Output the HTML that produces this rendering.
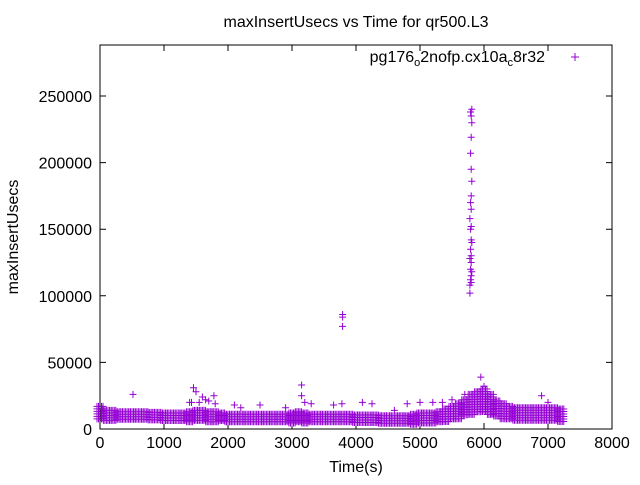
<!DOCTYPE html>
<html><head><meta charset="utf-8"><style>
body{margin:0;background:#fff}
svg text{font-family:"Liberation Sans",sans-serif;font-size:16px;fill:#000}
</style></head><body>
<svg id="chart" width="640" height="480" viewBox="0 0 640 480" xmlns="http://www.w3.org/2000/svg">
<rect width="640" height="480" fill="#fff"/>
<text x="356" y="27" text-anchor="middle">maxInsertUsecs vs Time for qr500.L3</text>
<text transform="translate(18,237) rotate(-90)" text-anchor="middle">maxInsertUsecs</text>
<text x="356" y="472" text-anchor="middle">Time(s)</text>
<g id="axes"></g>
<g id="marks"></g>
<rect x="100" y="45" width="512" height="384" fill="none" stroke="#000" stroke-width="1"/>
<g>
<text x="545" y="62" text-anchor="end">pg176<tspan font-size="11" dy="4">o</tspan><tspan dy="-4">2nofp.cx10a</tspan><tspan font-size="11" dy="4">c</tspan><tspan dy="-4">8r32</tspan></text>
<path d="M571 57h8M575 53v8" stroke="#9400d3" stroke-width="1"/>
</g>
</svg>
<script>
const xTicks=[0,1000,2000,3000,4000,5000,6000,7000,8000];
const yTicks=[0,50000,100000,150000,200000,250000];
const bandTimes=[0,100,200,300,400,500,600,700,800,900,1000,1100,1200,1300,1400,1500,1600,1700,1800,1900,2000,2100,2200,2300,2400,2500,2600,2700,2800,2900,3000,3100,3200,3300,3400,3500,3600,3700,3800,3900,4000,4100,4200,4300,4400,4500,4600,4700,4800,4900,5000,5100,5200,5300,5400,5500,5600,5700,5800,5900,6000,6100,6200,6300,6400,6500,6600,6700,6800,6900,7000,7100,7200];
const bandLow=[6000,6000,6000,6000,6000,6000,6000,6000,5500,5500,5000,5000,5000,5000,5000,5000,5000,5000,5000,5000,4500,4500,4500,4500,4000,4000,4000,4000,4000,4000,4000,4000,4000,4000,4000,4000,4000,4000,4000,4000,3500,3500,3500,3500,3000,3000,3000,3000,3000,3000,3500,4000,4000,4000,5000,6000,7000,9000,10000,12000,13000,10000,8000,7000,6000,5500,5500,5000,5000,5000,5000,5000,5000];
const bandHigh=[17000,14000,14000,13000,13000,13000,13000,13000,12500,12500,12000,12000,12000,12000,13000,14000,14000,13000,13000,12000,11000,11000,11000,11000,11000,11000,11000,11000,11000,11000,12000,13000,12000,11000,11000,11000,11000,11000,11000,11000,10500,10500,10500,10500,10000,10000,10000,10000,10000,11000,12000,12000,12000,13000,15000,17000,19000,22000,26000,28000,30000,26000,21000,19000,17000,16000,16000,16000,16000,16000,16000,16000,15000];
const outT=[30,516,1400,1430,1461,1500,1550,1600,1650,1700,1780,1800,2100,2200,2500,2900,3150,3150,3200,3300,3650,3780,3790,3790,3790,4100,4250,4600,4800,5000,5200,5350,5500,5700,5950,6000,6900,7000,7200];
const outV=[15000,26000,20000,20000,31000,28000,20000,24000,22000,21000,25000,19000,18000,16000,18000,16000,33000,25000,20000,19000,18000,19000,86000,84000,77000,20000,19000,14000,19000,20000,20000,20000,22000,26000,39000,32000,25000,20000,15000];
const spikeT=[5780,5780,5800,5790,5800,5810,5790,5800,5780,5800,5790,5810,5800,5790,5800,5780,5800,5790,5800,5810,5800,5790,5800,5810,5800,5790,5810];
const spikeV=[102000,108000,110000,112000,115000,118000,120000,125000,128000,130000,135000,140000,142000,150000,152000,158000,165000,170000,175000,186000,195000,207000,219000,230000,235000,238000,240000];

const X0=100,X1=612,Y0=429,Y1=45;
const xs=t=>X0+t*(X1-X0)/8000;
const ys=v=>Y0-v*(Y0-Y1)/288300;
const NS="http://www.w3.org/2000/svg";
const axes=document.getElementById('axes'),marks=document.getElementById('marks');
function el(tag,attrs,parent){const e=document.createElementNS(NS,tag);for(const k in attrs)e.setAttribute(k,attrs[k]);parent.appendChild(e);return e;}
xTicks.forEach(t=>{
  const g=el('g',{},axes);
  
  
  const x=xs(t);
  el('path',{d:`M${x} ${Y0}v-6M${x} ${Y1}v6`,stroke:'#000'},g);
  const tx=el('text',{x:x,y:Y0+19,'text-anchor':'middle'},g);tx.textContent=t;
});
yTicks.forEach(v=>{
  const g=el('g',{},axes);
  
  
  const y=ys(v);
  el('path',{d:`M${X0} ${y}h6M${X1} ${y}h-6`,stroke:'#000'},g);
  const tx=el('text',{x:X0-8,y:y+6,'text-anchor':'end'},g);tx.textContent=v;
});
let d='';
function plus(x,y){d+=`M${(x-3.5).toFixed(1)} ${y.toFixed(1)}h7M${x.toFixed(1)} ${(y-3.5).toFixed(1)}v7`;}
bandTimes.forEach((t,i)=>{
  const yl=ys(bandLow[i]),yh=ys(bandHigh[i]);
  for(let dx=-3;dx<=3;dx+=1.5){for(let y=yh;y<=yl;y+=2.5){plus(xs(t)+dx,y);}}
});
outT.forEach((t,i)=>plus(xs(t),ys(outV[i])));
spikeT.forEach((t,i)=>plus(xs(t),ys(spikeV[i])));
const p=el('path',{d:d,stroke:'#9400d3','stroke-width':1,fill:'none'},marks);


</script>
</body></html>
